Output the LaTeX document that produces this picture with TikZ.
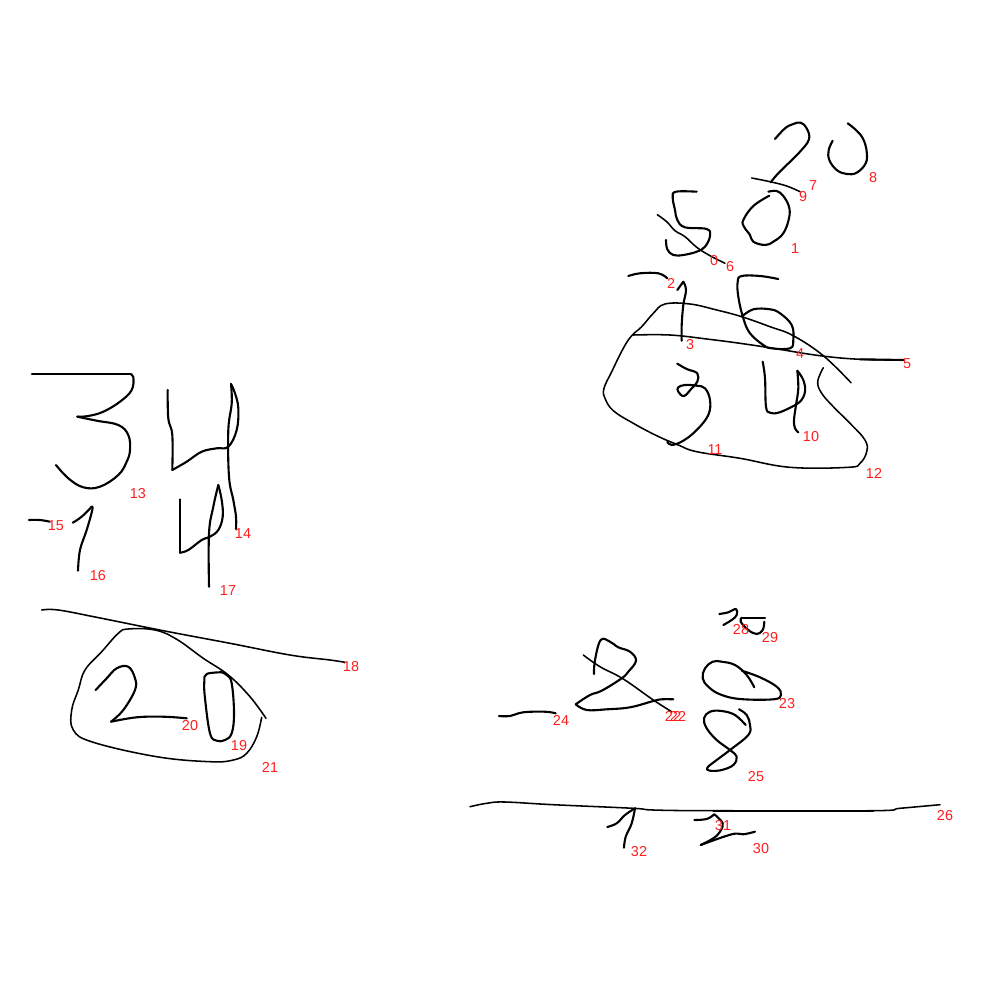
\documentclass[tikz,border=0pt]{standalone}
\usepackage{fontspec}
\setmainfont{Liberation Sans}
\definecolor{labelred}{RGB}{255,30,30}
\tikzset{
  ink/.style={draw=black,line width=3pt,line cap=round,line join=round},
  hair/.style={draw=black,line width=2.2pt,line cap=round,line join=round},
  lbl/.style={text=labelred,inner sep=0pt,font=\fontsize{20.5}{24}\selectfont}
}
\newcommand{\inkp}[1]{\draw[ink] plot[smooth,tension=0.65] coordinates {#1};}
\newcommand{\hairp}[1]{\draw[hair] plot[smooth,tension=0.65] coordinates {#1};}
\begin{document}
\begin{tikzpicture}[x=0.05cm,y=-0.05cm]
\useasboundingbox (0,0) rectangle (1000,1000);
% top right group
\inkp{(696.7,191.7)(676,191.7)(672.7,197.3)(675,210)(677.3,220)(685,227.3)(706.7,229)(710,236)(705,246.7)(696.7,251.7)(683.3,255)(673.3,255)(667.3,249.3)(666,240)}
\hairp{(657.3,214.7)(666.7,221.7)(675,230.7)(685,236.7)(696.7,247.3)(710,255.7)(725,263.3)}
\inkp{(769.3,195.7)(753.3,206)(743.3,220)(744,226.7)(750,235)(753.3,241.7)(765,245)(773.3,241.7)(783.3,233.3)(789,218.3)(789,206.7)(783.3,196)(776.7,191)(768.3,191.7)}
\inkp{(775,139)(785,128.3)(793.3,124)(800.7,122.7)(806.7,128.3)(809,139.3)(800,151.7)(786.7,165)(776.7,175)(770.7,182.3)}
\hairp{(751.7,178)(770,181.7)(786.7,186)(800,191.7)}
\inkp{(847.7,123.3)(856.7,130.7)(863.3,139.3)(866.7,151.7)(865.7,163.3)(856.7,172.7)(846.7,174)(836.7,170)(829.3,160)(828.7,150)(832.7,140.7)}
\inkp{(628.3,276)(640,273.3)(658.3,273.3)(667.3,278.3)}
\inkp{(677.3,290)(683.3,281.7)}
\inkp{(683.3,281.7)(686,290)(683.3,305)(681.7,325)(681.7,340.7)}
\inkp{(778.3,279)(760,276)(741.7,276)(737.7,281.7)(738.3,296.7)(743.3,318.3)(750,333.3)(763.3,345)(771.7,348.3)(790,348.3)(793.3,340)(791.7,325)(780,313.3)(770,309.3)(753.3,309.3)(741.7,316.7)}
\hairp{(633.3,335)(670,335)(706.7,339)(740,343.3)(773.3,348.3)(820,355.7)(860,359.3)(903.3,360)}
\inkp{(860,359.3)(903.3,360)}
\hairp{(851,382.7)(823.3,355.7)(793.3,335.7)(770,326.7)(741.7,316.7)(716.7,310)(690,304)(665,304)(653.3,313.3)(641.7,326.7)(631.7,335.7)(623.3,348.3)(611.7,371.7)(604,388.3)(605,398.3)(613.3,410.7)(633.3,423.3)(656.7,435.7)(678.3,445)(696.7,451.7)(740,458.3)(790,467.3)(848.3,467.3)(860,463.3)(866.7,451.7)(865,440)(850,423.3)(833.3,406.7)(821.7,393.3)(817.7,381.7)(823.3,367.7)}
\inkp{(677.3,363.7)(686.7,369)(697.3,373.3)(697.3,381.7)(691.7,388.3)(684,396)(678.3,391.7)(678.3,387.3)(685,385)(696.7,385.7)(705,388.3)(710,400)(708.3,415)(696.7,430)(683.3,440.7)(671.7,445)(667.3,441.7)}
\inkp{(762.7,361.7)(765,378.3)(766,406.7)(770,412.7)(778.3,412.7)(790,407.7)(800,401.7)(805,391.7)(803.3,380)(797.3,370.7)}
\inkp{(797.3,370.7)(798.3,388.3)(796,405)(794,420)(795,428.3)(798.3,432.3)}
% left group
\inkp{(32,374)(130,374)}
\inkp{(130,374)(133.3,377)(131.7,390)(120,401.7)(103.3,411.7)(88.3,416)(77.3,416.7)}
\inkp{(77.3,416.7)(96.7,420.7)(118.3,425)(128.3,435)(130,450)(126.7,461.7)(118.3,475)(100,486.7)(83.3,487.3)(68.3,478.3)(56,465)}
\inkp{(167.7,390)(168.3,418.3)(172.3,435)(172.3,470)}
\inkp{(172.3,470)(186.7,461.7)(201.7,451.7)(216.7,448.3)(228.3,446.7)(236.7,430)(238.3,408.3)(235,393.3)(231,384)}
\inkp{(231,384)(231.7,403.3)(228.3,430)(229,476.7)(233.3,500)(236,516.7)(236,529)}
\inkp{(29,520)(40,520)(50,521.7)}
\inkp{(72.7,522.7)(81.7,516.7)(91.7,506.7)}
\inkp{(91.7,506.7)(92.3,510)(86.7,530)(80,550)(78,570.7)}
\inkp{(180,499.3)(180,552.7)}
\inkp{(180,552.7)(188.3,550)(201.7,540)(210,536.7)(218.3,530)(222.7,516.7)(221.7,500)(218.3,485)}
\inkp{(218.3,485)(213.3,506.7)(209,533.3)(209,586.7)}
\hairp{(41.7,610)(58.3,610)(96.7,617.3)(163.3,630.7)(230,643.3)(290,655)(330,660)(345,662.3)}
\hairp{(266,718.3)(250,696.7)(228.3,675)(203.3,658.3)(176.7,639.3)(155,630)(128.3,629)(118.3,633.3)(101.7,651.7)(85,670)(78.3,690)(71.7,710)(73.3,730)(93.3,742.3)(156.7,756.7)(210,761.7)(233.3,760)(246.7,753.3)(256.7,736.7)(261.7,717.3)}
\inkp{(95.7,690)(106.7,678.3)(116.7,668.3)(128.3,666.7)(135,678.3)(135,690)(123.3,710)(111,721.7)}
\inkp{(111,721.7)(136.7,717.3)(163.3,716.7)(186.7,718.3)}
\inkp{(221.7,672.3)(206.7,674)(204.3,681.7)(205,698.3)(210,733.3)(216.7,740.7)(225,740)(231.7,733.3)(234,713.3)(231.7,683.3)(226.7,675)(220,671.7)}
% bottom right group
\inkp{(499,716)(510,716)(523.3,712.3)(545,711.7)(555.7,713.3)}
\hairp{(583.3,655)(600,666.7)(623.3,679)(653.3,700)(671.7,711.7)}
\inkp{(594,674)(595,660)(600.7,640)(610,641.7)(618.3,647.3)(630,651.7)(636,660.7)(628.3,671.7)(621.7,678.3)(601.7,690.7)(590,695)(575.7,704.3)}
\inkp{(575.7,704.3)(586.7,710)(606.7,709.3)(630,707.3)(653.3,701)(661.7,699.3)(673.3,699.3)}
\inkp{(754.3,687.3)(746.7,675)(735,665)(721.7,661.7)(712.7,661.7)(705,668.3)(702.7,678.3)(708.3,686.7)(720,694.3)(740,699)(773.3,699.3)(781,695)(776.7,686.7)(760,677.3)(741.7,670.7)}
\inkp{(745.7,725)(735,715)(721.7,711)(710,711.7)(704,718.3)(706.7,728.3)(716.7,740)(730,750)(736.7,756.7)(733.3,765)(721.7,770)(710,770.7)(707.3,767.7)(716.7,760)(730,750)(748.3,735)(750,725)(746.7,715)(739,709.3)}
\inkp{(719.3,614)(728.3,612.3)(736,609)(736.7,615)(731.7,620)(723.3,625)}
\inkp{(765,617.7)(741.7,617.7)}
\inkp{(741.7,617.7)(740.7,621.7)(748.3,630)(756.7,634)(762.7,630)(764.3,621.7)}
\hairp{(470,806.7)(486.7,803.3)(505,802)(553.3,804.7)(633.3,808.3)(653.3,810)(713.3,810.7)(873.3,810.7)(900,808.3)(940,804.7)}
\inkp{(713.3,810.7)(873.3,810.7)}
\inkp{(607.3,827)(616.7,823.3)(625,815)(635,808.3)}
\inkp{(635,808.3)(631.7,823.3)(625.7,836.7)(624,847.7)}
\inkp{(694.3,820)(706.7,819)(714.3,814.3)}
\inkp{(714.3,814.3)(722.7,823.3)(720,831.7)(713.3,838.3)(700.7,845)}
\inkp{(700.7,845)(731.7,834.3)(743.3,834.3)(755,831.7)}
% labels
\node[lbl] (n0) at (714,261) {0};
\node[lbl] (n1) at (795,249) {1};
\node[lbl] (n2) at (671,283) {2};
\node[lbl] (n3) at (690,345) {3};
\node[lbl] (n4) at (800,354) {4};
\node[lbl] (n5) at (907,364) {5};
\node[lbl] (n6) at (730,267) {6};
\node[lbl] (n7) at (813,186) {7};
\node[lbl] (n8) at (873,178) {8};
\node[lbl] (n9) at (803,197) {9};
\node[lbl] (n10) at (811,437) {10};
\node[lbl] (n11) at (715,450) {11};
\node[lbl] (n12) at (874,473) {12};
\node[lbl] (n13) at (138,494) {13};
\node[lbl] (n14) at (243,534) {14};
\node[lbl] (n15) at (56,526) {15};
\node[lbl] (n16) at (98,576) {16};
\node[lbl] (n17) at (228,591) {17};
\node[lbl] (n18) at (351,667) {18};
\node[lbl] (n19) at (239,746) {19};
\node[lbl] (n20) at (190,726) {20};
\node[lbl] (n21) at (270,767) {21};
\node[lbl] (n22a) at (673,716) {22};
\node[lbl] (n22b) at (678,716) {22};
\node[lbl] (n23) at (787,704) {23};
\node[lbl] (n24) at (561,720) {24};
\node[lbl] (n25) at (756,777) {25};
\node[lbl] (n26) at (945,816) {26};
\node[lbl] (n28) at (741,630) {28};
\node[lbl] (n29) at (770,638) {29};
\node[lbl] (n30) at (761,849) {30};
\node[lbl] (n31) at (723,826) {31};
\node[lbl] (n32) at (639,852) {32};
\end{tikzpicture}
\end{document}
